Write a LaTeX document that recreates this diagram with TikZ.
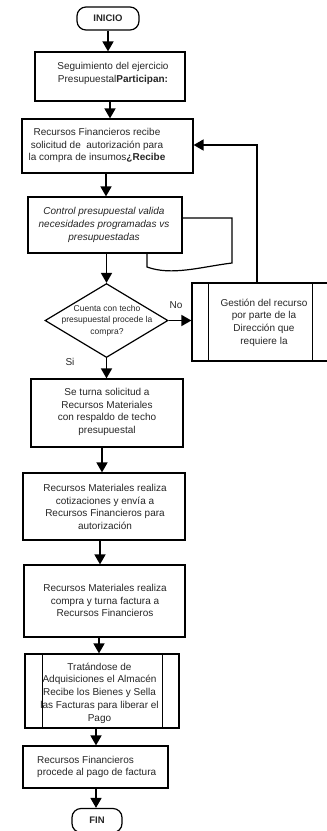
\documentclass[tikz,border=0pt]{standalone}
\usepackage{fontspec}
\setmainfont{Liberation Sans}
\usetikzlibrary{arrows.meta,shapes.geometric}
\begin{document}
\begin{tikzpicture}[x=1pt,y=-1pt,
  shp/.style={draw, line width=1.2pt, inner sep=0pt},
  box/.style={shp, rectangle},
  term/.style={shp, rectangle, rounded corners=9pt},
  txt/.style={align=center, font=\fontsize{10}{12.7}\selectfont, text=black!85, inner sep=0pt},
  small/.style={align=center, font=\fontsize{8.5}{11.5}\selectfont, text=black!85, inner sep=0pt},
  arr/.style={line width=1.6pt, -{Triangle[width=11pt,length=10pt]}},
  ]
\useasboundingbox (0,0) rectangle (327,831);

% shapes
\node[term, minimum width=62pt, minimum height=23pt] (ini) at (108,18.5) {};
\node[box, minimum width=150pt, minimum height=49pt] (b1) at (110,76.5) {};
\node[box, minimum width=171pt, minimum height=54pt] (b2) at (107.5,146) {};
% document symbol with its trailing sheet
\draw[line width=1.2pt] (182,218) -- (232,218) -- (232,263)
  .. controls (200,267) and (172,276) .. (147,267) -- (147,253);
\node[box, fill=white, minimum width=154pt, minimum height=56pt] (b3) at (105,225) {};
\node[shp, diamond, minimum width=123pt, minimum height=74pt] (dec) at (106.5,320.5) {};
\node[box, minimum width=137pt, minimum height=78pt] (g) at (260.5,322) {};
\draw[line width=1.2pt] ([xshift=17pt]g.north west) -- ([xshift=17pt]g.south west);
\draw[line width=1.2pt] ([xshift=121pt]g.north west) -- ([xshift=121pt]g.south west);
\node[box, minimum width=152pt, minimum height=68pt] (b4) at (107,413) {};
\node[box, minimum width=162pt, minimum height=67pt] (b5) at (104,506.5) {};
\node[box, minimum width=161pt, minimum height=72pt] (b6) at (104.5,601) {};
\node[box, minimum width=154pt, minimum height=74pt] (b7) at (102,691) {};
\draw[line width=1.2pt] ([xshift=18pt]b7.north west) -- ([xshift=18pt]b7.south west);
\draw[line width=1.2pt] ([xshift=-17pt]b7.north east) -- ([xshift=-17pt]b7.south east);
\node[box, minimum width=145pt, minimum height=42pt] (b8) at (95.5,767) {};
\node[term, minimum width=50pt, minimum height=24pt] (fin) at (97,820.5) {};

% texts
\node[txt, font=\bfseries\fontsize{9.5}{11}\selectfont] (tini) at (ini.center) {INICIO};
\node[txt] (t1) at (113,73.5) {Seguimiento del ejercicio\\Presupuestal\textbf{Participan:}};
\node[txt] (t2) at (97,145.5) {Recursos Financieros recibe\\solicitud de\ \ autorización para\\la compra de insumos\textbf{¿Recibe}};
\node[txt, font=\itshape\fontsize{10}{12.7}\selectfont] (t3) at (104,225) {Control presupuestal valida\\necesidades programadas vs\\presupuestadas};
\node[small] (t4) at (107,320.5) {Cuenta con techo\\presupuestal procede la\\compra?};
\node[txt] (t5) at (264,322.5) {Gestión del recurso\\por parte de la\\Dirección que\\requiere la};
\node[txt] (t6) at (107,412) {Se turna solicitud a\\Recursos Materiales\\con respaldo de techo\\presupuestal};
\node[txt] (t7) at (105,507) {Recursos Materiales realiza\\cotizaciones y envía a\\Recursos Financieros para\\autorización};
\node[txt] (t8) at (105,600.5) {Recursos Materiales realiza\\compra y turna factura a\\Recursos Financieros};
\node[txt] (t9) at (99.5,693) {Tratándose de\\Adquisiciones el Almacén\\Recibe los Bienes y Sella\\las Facturas para liberar el\\Pago};
\node[txt, align=left, anchor=west] (t10) at (37,767) {Recursos Financieros\\procede al pago de factura};
\node[txt, font=\bfseries\fontsize{9.5}{11}\selectfont] (tfin) at (fin.center) {FIN};
\node[txt] (lno) at (176,305) {No};
\node[txt] (lsi) at (70,362) {Si};

% connectors
\coordinate (x3) at (106,0);
\coordinate (x6) at (102,0);
\coordinate (x7) at (100,0);
\coordinate (x8) at (99,0);
\coordinate (x9) at (96,0);
\coordinate (fb) at (257,145);
\draw[arr] (ini.south) -- (b1.north -| ini.south);
\draw[arr] (b1.south) -- (b2.north -| b1.south);
\draw[arr] (b2.south -| x3) -- (b3.north -| x3);
\draw[arr] (b3.south -| dec.north) -- (dec.north);
\draw[arr] (dec.south) -- (b4.north -| dec.south);
\draw[arr] (dec.east) -- (g.west |- dec.east);
\draw[arr] (g.north -| fb) -- (fb) -- (b2.east |- fb);
\draw[arr] (b4.south -| x6) -- (b5.north -| x6);
\draw[arr] (b5.south -| x7) -- (b6.north -| x7);
\draw[arr] (b6.south -| x8) -- (b7.north -| x8);
\draw[arr] (b7.south -| x9) -- (b8.north -| x9);
\draw[arr] (b8.south -| x9) -- (fin.north -| x9);
\end{tikzpicture}
\end{document}
